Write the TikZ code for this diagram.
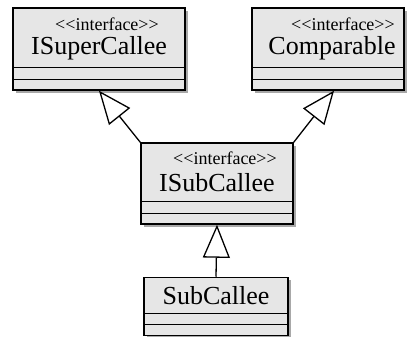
\documentclass[tikz,border=0pt]{standalone}
\usepackage{fontspec}
\setmainfont{Liberation Serif}[Ligatures=TeXOff]
\usetikzlibrary{arrows.meta, shadows, positioning}
\definecolor{boxgray}{RGB}{230,230,230}
\definecolor{shadowgray}{RGB}{168,168,168}

\tikzset{
  classbox/.style={draw, line width=1.5pt, fill=boxgray, rectangle, inner sep=0pt,
    drop shadow={shadow xshift=3pt, shadow yshift=-3pt, fill=shadowgray, opacity=1}},
  stereo/.style={anchor=base, inner sep=0pt, font=\fontsize{18}{18}\selectfont},
  classname/.style={anchor=base, inner sep=0pt, font=\fontsize{26}{26}\selectfont},
  inherits/.style={line width=1.3pt, -{Triangle[length=33pt, width=27pt, fill=white]}}
}

\begin{document}
\begin{tikzpicture}[x=1pt, y=-1pt]
    \useasboundingbox (0,0) rectangle (408,337);

    % class boxes
    \node[classbox, minimum width=172pt, minimum height=82pt] (sup) at (99,49) {};
    \node[classbox, minimum width=152pt, minimum height=82pt] (cmp) at (328,49) {};
    \node[classbox, minimum width=152pt, minimum height=81pt] (sub) at (217,183.5) {};
    \node[classbox, minimum width=144pt, minimum height=58pt] (impl) at (216,306.5) {};

    % empty compartments
    \foreach \n in {sup, cmp, sub, impl} {
        \draw[line width=1.3pt] ([yshift=23pt]\n.south west) -- ([yshift=23pt]\n.south east);
        \draw[line width=1.3pt] ([yshift=11.5pt]\n.south west) -- ([yshift=11.5pt]\n.south east);
    }

    % labels
    \node[stereo] (supst) at ([xshift=8pt, yshift=-23pt]sup.north) {<<interface>>};
    \node[classname] (supnm) at ([yshift=-47pt]sup.north) {ISuperCallee};
    \node[stereo] (cmpst) at ([xshift=15pt, yshift=-23pt]cmp.north) {<<interface>>};
    \node[classname] (cmpnm) at ([xshift=4pt, yshift=-47pt]cmp.north) {Comparable};
    \node[stereo] (subst) at ([xshift=8pt, yshift=-22pt]sub.north) {<<interface>>};
    \node[classname] (subnm) at ([yshift=-49pt]sub.north) {ISubCallee};
    \node[classname] (implnm) at ([yshift=-28pt]impl.north) {SubCallee};

    % generalisations
    \draw[inherits] (sub.north west) -- (sup.south);
    \draw[inherits] (sub.north east) -- ([xshift=6pt]cmp.south);
    \draw[inherits] (impl.north) -- (sub.south);
\end{tikzpicture}
\end{document}
